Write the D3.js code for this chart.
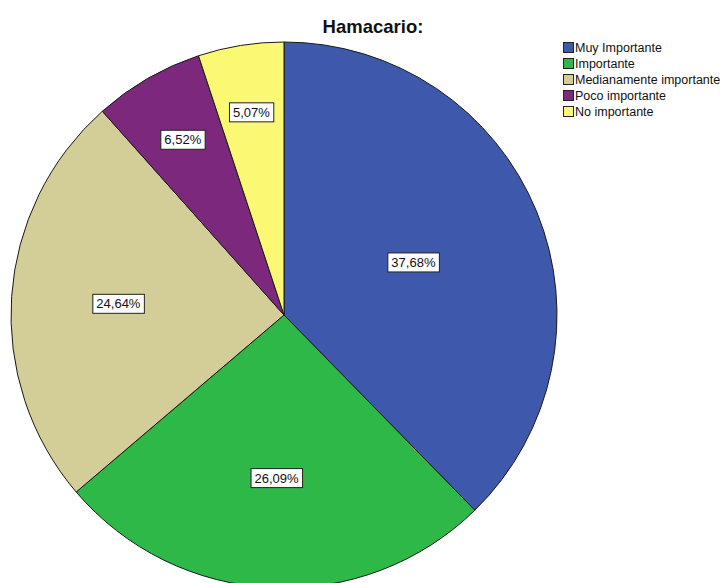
<!DOCTYPE html>
<html>
<head>
<meta charset="utf-8">
<script src="https://cdn.jsdelivr.net/npm/d3@7/dist/d3.min.js"></script>
<style>
  html, body { margin: 0; padding: 0; background: #fff; }
  svg { display: block; font-family: "Liberation Sans", Arial, sans-serif; }
</style>
</head>
<body>
<svg id="chart" width="720" height="583"></svg>
<script>
// Response categories and their percentages
const categories = ["Muy Importante", "Importante", "Medianamente importante", "Poco importante", "No importante"];
const percentages = [37.68, 26.09, 24.64, 6.52, 5.07];
const colors = ["#3E58AC", "#2EB848", "#D3CE97", "#7C287D", "#FBF873"];
const title = "Hamacario:";

const svg = d3.select("#chart");
const cx = 284, cy = 315, radius = 273;

const data = categories.map((c, i) => ({ category: c, value: percentages[i], color: colors[i] }));

const pie = d3.pie().value(d => d.value).sort(null);
const arcs = pie(data);
const arc = d3.arc().innerRadius(0).outerRadius(radius);

const g = svg.append("g").attr("transform", `translate(${cx},${cy})`);

g.selectAll("path.slice")
  .data(arcs)
  .join("path")
  .attr("class", "slice")
  .attr("d", arc)
  .attr("fill", d => d.data.color)
  .attr("stroke", "#1a1a1a")
  .attr("stroke-width", 1);

// Value labels: narrower slices push their label further out
const fmt = v => v.toFixed(2).replace(".", ",") + "%";
const labels = g.selectAll("g.lbl")
  .data(arcs)
  .join("g")
  .attr("class", "lbl")
  .attr("transform", d => {
    const half = (d.endAngle - d.startAngle) / 2;
    const f = 0.79 - 0.235 * half;
    const a = (d.startAngle + d.endAngle) / 2;
    return `translate(${Math.sin(a) * radius * f},${-Math.cos(a) * radius * f})`;
  });

labels.append("text")
  .attr("text-anchor", "middle")
  .attr("dy", "0.36em")
  .attr("font-size", 13)
  .attr("fill", "#111")
  .text(d => fmt(d.data.value));

labels.each(function() {
  const t = d3.select(this).select("text");
  const b = t.node().getBBox();
  d3.select(this).insert("rect", "text")
    .attr("x", b.x - 3.5)
    .attr("y", b.y - 2)
    .attr("width", b.width + 7)
    .attr("height", b.height + 4)
    .attr("fill", "#fff")
    .attr("stroke", "#222")
    .attr("stroke-width", 1);
});

// Title
svg.append("text")
  .attr("x", 373)
  .attr("y", 33)
  .attr("text-anchor", "middle")
  .attr("font-size", 18.5)
  .attr("font-weight", "bold")
  .attr("fill", "#111")
  .text(title);

// Legend
const legend = svg.append("g").attr("transform", "translate(563,42)");
const row = legend.selectAll("g.item")
  .data(data)
  .join("g")
  .attr("class", "item")
  .attr("transform", (d, i) => `translate(0,${i * 16})`);

row.append("rect")
  .attr("x", 0.5)
  .attr("y", 0.5)
  .attr("width", 10)
  .attr("height", 10)
  .attr("fill", d => d.color)
  .attr("stroke", "#222")
  .attr("stroke-width", 1);

row.append("text")
  .attr("x", 12)
  .attr("y", 10)
  .attr("font-size", 12.5)
  .attr("fill", "#111")
  .text(d => d.category);
</script>
</body>
</html>
